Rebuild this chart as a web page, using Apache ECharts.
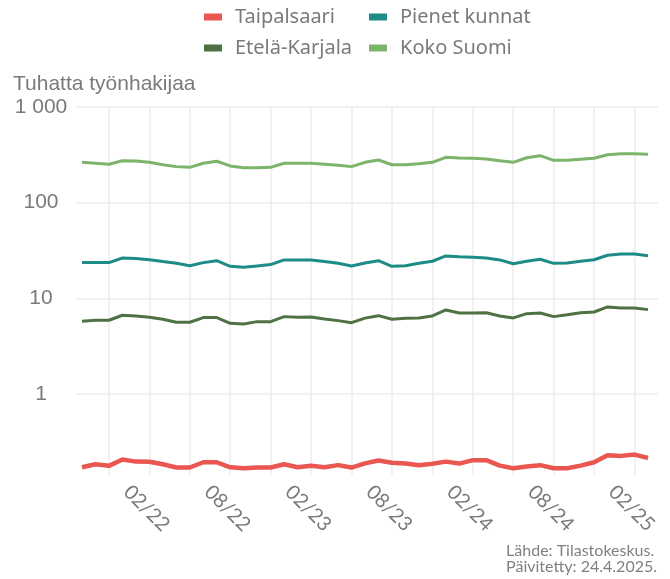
<!DOCTYPE html>
<html>
<head>
<meta charset="utf-8">
<title>Työnhakijat</title>
<script src="https://cdn.jsdelivr.net/npm/echarts@6/dist/echarts.min.js"></script>
<style>
  html, body { margin: 0; padding: 0; background: #fff; }
  #chart { width: 670px; height: 579px; }
</style>
</head>
<body>
<div id="chart"></div>
<script>
// kuukaudet 09/21 - 03/25
const months = [
  "09/21", "10/21", "11/21", "12/21",
  "01/22", "02/22", "03/22", "04/22", "05/22", "06/22", "07/22", "08/22", "09/22", "10/22", "11/22", "12/22",
  "01/23", "02/23", "03/23", "04/23", "05/23", "06/23", "07/23", "08/23", "09/23", "10/23", "11/23", "12/23",
  "01/24", "02/24", "03/24", "04/24", "05/24", "06/24", "07/24", "08/24", "09/24", "10/24", "11/24", "12/24",
  "01/25", "02/25", "03/25",
];

// tuhatta työnhakijaa
const taipalsaari = [
  0.171, 0.184, 0.177, 0.206, 0.196, 0.195, 0.184, 0.170, 0.170, 0.193, 0.193,
  0.171, 0.167, 0.170, 0.170, 0.184, 0.171, 0.177, 0.171, 0.180, 0.170, 0.188,
  0.201, 0.191, 0.187, 0.180, 0.186, 0.196, 0.187, 0.203, 0.203, 0.178, 0.167,
  0.174, 0.180, 0.167, 0.167, 0.178, 0.193, 0.229, 0.225, 0.232, 0.214,
];
const pienetKunnat = [
  23.6, 23.6, 23.6, 26.4, 26.0, 25.3, 24.2, 23.2, 21.9, 23.6, 24.7,
  21.6, 21.1, 21.8, 22.5, 25.2, 25.2, 25.2, 24.2, 23.2, 21.8, 23.4,
  24.7, 21.6, 21.9, 23.2, 24.4, 27.7, 27.2, 26.9, 26.4, 25.2, 23.0,
  24.4, 25.6, 23.2, 23.4, 24.4, 25.3, 28.2, 29.1, 29.1, 27.9,
];
const etelaKarjala = [
  5.75, 5.89, 5.89, 6.65, 6.54, 6.34, 6.04, 5.62, 5.62, 6.28, 6.28,
  5.48, 5.39, 5.70, 5.70, 6.43, 6.34, 6.38, 6.08, 5.84, 5.56, 6.20,
  6.58, 6.04, 6.18, 6.23, 6.54, 7.55, 7.02, 7.02, 7.07, 6.54, 6.23,
  6.91, 7.02, 6.43, 6.74, 7.07, 7.19, 8.12, 7.92, 7.92, 7.61,
];
const kokoSuomi = [
  264, 258, 252, 274, 272, 264, 249, 238, 234, 258, 271,
  242, 232, 232, 234, 258, 258, 258, 252, 246, 238, 264,
  279, 249, 249, 255, 264, 298, 293, 291, 286, 274, 264,
  295, 310, 277, 277, 284, 291, 317, 325, 325, 320,
];

const seriesNames = ["Taipalsaari", "Pienet kunnat", "Etelä-Karjala", "Koko Suomi"];
const seriesColors = ["#ea5650", "#1d8c87", "#4f7244", "#7cb46c"];
const seriesData = [taipalsaari, pienetKunnat, etelaKarjala, kokoSuomi];
const lineWidths = [4.5, 3, 3, 3];

const yMin = 0.142;
const yMax = 1000;

const gridColor = "#eeeeee";
const textColor = "#7a7a7a";

function fmtThousands(v) {
  return String(v).replace(/\B(?=(\d{3})+(?!\d))/g, " ");
}

let chart = echarts.init(document.getElementById("chart"));

// legenda 2x2, jokainen oma komponenttinsa jotta sarakkeet linjautuvat
const legendPos = [
  { left: 204, top: 7 },
  { left: 369, top: 7 },
  { left: 204, top: 38 },
  { left: 369, top: 38 },
];

chart.setOption({
  animation: false,
  legend: seriesNames.map((name, i) => ({
    data: [name],
    left: legendPos[i].left,
    top: legendPos[i].top,
    padding: 0,
    icon: "rect",
    itemWidth: 18,
    itemHeight: 7,
    textStyle: {
      fontFamily: "Noto Sans",
      fontSize: 20,
      color: textColor,
      padding: [0, 0, 0, 8],
    },
  })),
  grid: [
    { left: 76, right: 12, top: 107, bottom: 104 },
    { left: 82, right: 22, top: 107, bottom: 104 },
  ],
  xAxis: [
    { gridIndex: 0, type: "value", show: false },
    {
      gridIndex: 1,
      type: "category",
      data: months,
      boundaryGap: false,
      axisLine: { show: false },
      axisTick: { show: false },
      splitLine: {
        show: true,
        interval: (i) => (i + 1) % 3 === 0,
        lineStyle: { color: gridColor, width: 1.6 },
      },
      axisLabel: {
        interval: (i) => (i + 1) % 6 === 0,
        rotate: -45,
        align: "center",
        verticalAlign: "middle",
        margin: 36,
        padding: [6, 8, 0, 0],
        fontFamily: "Lato",
        fontSize: 20,
        color: textColor,
      },
    },
  ],
  yAxis: [
    {
      gridIndex: 0,
      type: "log",
      logBase: 10,
      min: yMin,
      max: yMax,
      axisLine: { show: false },
      axisTick: { show: false },
      splitLine: {
        show: true,
        showMinLine: false,
        lineStyle: { color: gridColor, width: 1.6 },
      },
      axisLabel: {
        showMinLabel: false,
        formatter: (v) => fmtThousands(v),
        align: "center",
        margin: 35,
        fontFamily: "Liberation Sans",
        fontSize: 21,
        color: textColor,
      },
    },
    { gridIndex: 1, type: "log", logBase: 10, min: yMin, max: yMax, show: false },
  ],
  graphic: [
    {
      type: "text",
      left: 13,
      top: 74,
      style: {
        text: "Tuhatta työnhakijaa",
        fontFamily: "Liberation Sans",
        fontSize: 21,
        fill: textColor,
      },
    },
    {
      type: "text",
      right: 13,
      top: 543,
      style: {
        text: "Lähde: Tilastokeskus.\nPäivitetty: 24.4.2025.",
        fontFamily: "Lato",
        fontSize: 16,
        lineHeight: 16,
        align: "right",
        fill: "#808080",
      },
    },
  ],
  series: seriesNames.map((name, i) => ({
    name: name,
    type: "line",
    xAxisIndex: 1,
    yAxisIndex: 1,
    data: seriesData[i],
    showSymbol: false,
    color: seriesColors[i],
    lineStyle: { width: lineWidths[i], color: seriesColors[i] },
  })),
});
</script>
</body>
</html>
